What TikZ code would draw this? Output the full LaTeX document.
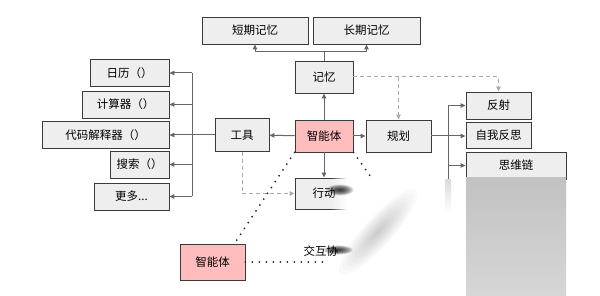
\documentclass[tikz,border=0pt]{standalone}
\usepackage{fontspec}
\setmainfont{Noto Sans CJK SC}
\usetikzlibrary{arrows.meta,positioning,calc}
\definecolor{boxgray}{HTML}{EEEEEE}
\definecolor{edgegray}{HTML}{3A3A3A}
\definecolor{agentpink}{HTML}{FFBDBD}
\definecolor{arrowgray}{HTML}{666666}
\definecolor{dashgray}{HTML}{ABABAB}
\definecolor{smudge}{HTML}{C9C9C9}

\begin{document}
\begin{tikzpicture}[
    x=1pt, y=-1pt,
    >={Triangle[length=5pt, width=4.5pt]},
    font=\fontsize{11.5}{13}\selectfont,
    box/.style={draw=edgegray, line width=0.9pt, fill=boxgray,
        inner sep=0pt, minimum width=#1, minimum height=27pt},
    box/.default=58pt,
    agentbox/.style={box=#1, fill=agentpink},
    agentbox/.default=58pt,
    line/.style={draw=arrowgray, line width=1pt},
    arr/.style={line, ->},
    dasharr/.style={draw=dashgray, line width=1pt, dash pattern=on 4pt off 3pt, ->},
    dotline/.style={draw=black!85, line width=2pt, line cap=round,
        dash pattern=on 0pt off 7pt},
]

\useasboundingbox[fill=white] (0,0) rectangle (600,296);

% =====================================================
% Memory (top)
% =====================================================
\node[box=106pt] (stm) at (255,30.5) {短期记忆};
\node[box=107pt] (ltm) at (366.5,30.5) {长期记忆};
\node[box, minimum height=32pt] (mem) at (324,77) {记忆};

% =====================================================
% Agent row
% =====================================================
\node[agentbox, minimum height=32pt] (agent) at (324,136) {智能体};
\node[box=54pt, minimum height=33pt] (tool) at (242,135) {工具};
\node[box=65pt, minimum height=32pt] (plan) at (398.5,136) {规划};
\node[box, minimum height=31pt] (act) at (324,193.5) {行动};

% =====================================================
% Tools (left)
% =====================================================
\node[box=79pt] (cal) at (129.5,73) {日历（）};
\node[box=87pt] (calc) at (125.5,104.5) {计算器（）};
\node[box=127pt] (code) at (105.5,135) {代码解释器（）};
\node[box=59pt] (search) at (139.5,164.5) {搜索（）};
\node[box=75pt] (more) at (131.5,196.5) {更多...};

% =====================================================
% Planning (right)
% =====================================================
\node[box=65pt] (refl) at (498.5,105.5) {反射};
\node[box=65pt, minimum height=26pt] (selfr) at (498.5,135.5) {自我反思};
\node[box=100pt] (cot) at (516,165.5) {思维链};

% =====================================================
% Second agent (bottom)
% =====================================================
\node[agentbox=65pt, minimum height=36pt] (agent2) at (212.5,262) {智能体};
\node[anchor=west] (interlbl) at (300,251) {交互协};

% --- Arrows from the agent ---
\draw[arr] (agent) -- (mem);
\draw[arr] (agent) -- (tool);
\draw[arr] (agent) -- (plan);
\draw[arr] (agent) -- (act);

% --- Memory split ---
\coordinate (msplit) at ($(mem.north)+(0,-9)$);
\draw[line] (mem.north) -- (msplit);
\draw[arr] (msplit) -| (stm.south);
\draw[arr] (msplit) -| (ltm.south);

% --- Tool bus ---
\coordinate (tbus) at (192,135);
\draw[arr] (tool.west) -- (code.east);
\draw[line] (tbus |- cal) -- (tbus |- more);
\foreach \t in {cal,calc,search,more}
    \draw[arr] (tbus |- \t) -- (\t.east);

% --- Planning bus ---
\coordinate (pbus) at (448,136);
\draw[arr] (plan.east) -- (plan.east -| selfr.west);
\draw[line] (pbus |- refl) -- (448,180);
\draw[arr] (pbus |- refl) -- (refl.west);
\draw[arr] (pbus |- cot) -- (cot.west);

% --- Dashed links ---
\draw[dasharr] (mem.east) -| (refl.north);
\draw[dasharr] (mem.east -| plan.north) -- (plan.north);
\draw[dasharr] (tool.south) |- (act.west);

% --- Dotted links ---
\draw[dotline] (agent.south west) -- ([xshift=22pt]agent2.north);
\draw[dotline] (agent.south east) -- ++(20,28);
\draw[dotline] (agent2.east) -- ++(84,0);

% =====================================================
% Smudge over the lower right
% =====================================================
\fill[white] (346,176) rectangle (356,212);
\foreach \i in {0,...,7} {
    \pgfmathsetmacro\op{\i/8}
    \fill[white, opacity=\op] (330+2*\i,176) rectangle (332+2*\i,212);
}
\foreach \i in {1,...,10} {
    \pgfmathsetmacro\sc{1-\i/11}
    \fill[black, opacity=0.018, rotate around={48:(378,232)}]
        (378,232) ellipse ({62*\sc} and {16*\sc});
    \fill[black, opacity=0.13] (340,190) ellipse ({15*\sc} and {6*\sc});
    \fill[black, opacity=0.13] (338,250) ellipse ({16*\sc} and {5*\sc});
}
\shade[top color=black!24, bottom color=black!16] (466,178) rectangle (566,296);
\shade[top color=black!14, bottom color=white] (445,180) rectangle (451,212);

\end{tikzpicture}
\end{document}
